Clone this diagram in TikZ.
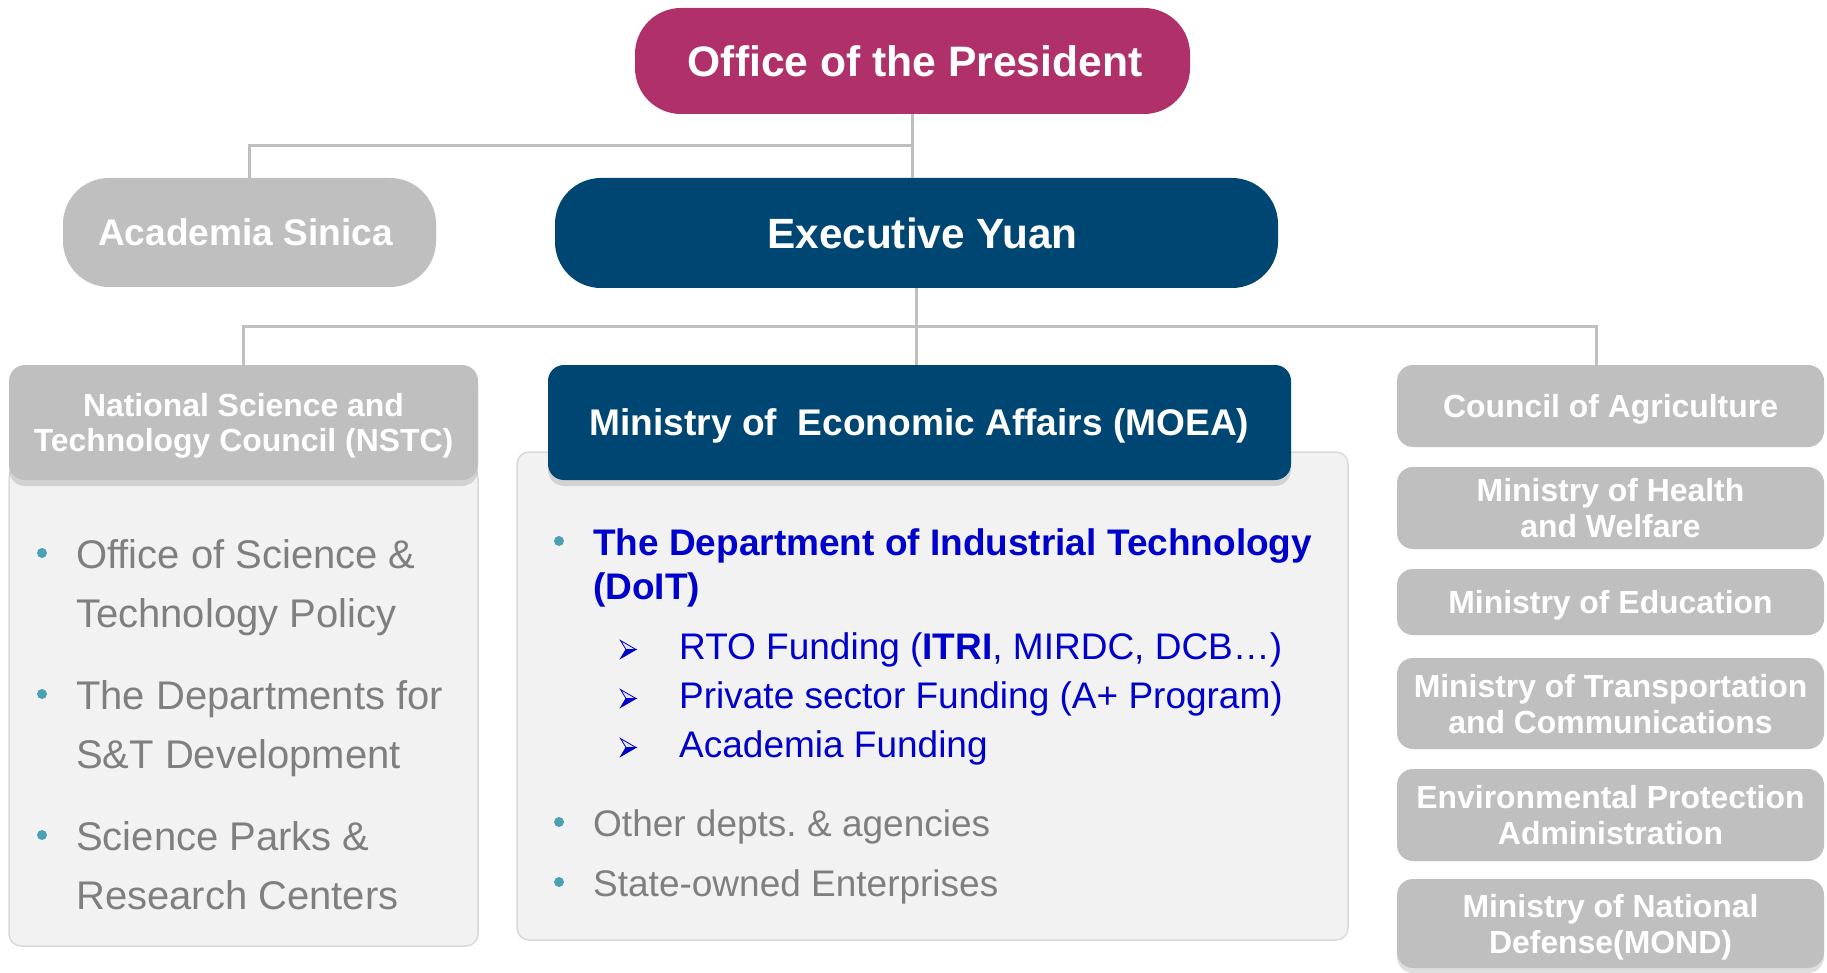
\documentclass[tikz,border=0pt]{standalone}
\usepackage{fontspec}
\setmainfont{Liberation Sans}
\usetikzlibrary{shadows}
\frenchspacing
\definecolor{presc}{HTML}{B0306A}
\definecolor{eyblue}{HTML}{004673}
\definecolor{boxgray}{HTML}{BFBFBF}
\definecolor{bodyfill}{HTML}{F2F2F2}
\definecolor{bodyline}{HTML}{D9D9D9}
\definecolor{bulteal}{HTML}{4BA0B4}
\definecolor{txtgray}{HTML}{7F7F7F}
\definecolor{ftblue}{HTML}{0000CC}
\definecolor{arrlight}{HTML}{E4E4F6}
\tikzset{
  conn/.style={draw=boxgray, line width=3pt},
  bigbox/.style={rounded corners=46pt, text=white, inner sep=0pt,
    font=\bfseries\fontsize{42.6}{50}\selectfont},
  hdrbox/.style={rounded corners=16pt, text=white, inner sep=0pt, align=center, text depth=0pt,
    drop shadow={opacity=0.28, shadow xshift=0pt, shadow yshift=-6pt}},
  rbox/.style={rounded corners=16pt, fill=boxgray, text=white, inner sep=0pt, align=center,
    text depth=0pt, minimum width=427pt, font=\bfseries\fontsize{31.9}{36}\selectfont},
  bodybox/.style={rounded corners=12pt, fill=bodyfill, draw=bodyline, line width=1.5pt},
  nsl/.style={anchor=west, inner sep=0pt, text height=28.8pt, text depth=0pt,
    text=txtgray, font=\fontsize{40}{48}\selectfont},
  mol/.style={anchor=west, inner sep=0pt, text height=26.6pt, text depth=0pt,
    font=\fontsize{37}{44}\selectfont},
  dot/.style={circle, fill=bulteal, inner sep=0pt, minimum size=10pt},
  arrbul/.pic={
    \filldraw[draw=ftblue, fill=arrlight, line width=0.8pt, line join=miter]
      (-7.5,-9) -- (8,0) -- (-2,0) -- cycle;
    \filldraw[draw=ftblue, fill=ftblue, line width=0.8pt, line join=miter]
      (-2,0) -- (8,0) -- (-7.5,9) -- cycle;
  },
}
\begin{document}
\begin{tikzpicture}[x=1pt,y=-1pt]
\useasboundingbox (0,0) rectangle (1827,973);
\fill[white] (0,0) rectangle (1827,973);

% top level
\node[bigbox, fill=presc, minimum width=555pt, minimum height=106pt] (pres) at (912.5,61) {\hspace*{5pt}Office of the President};
\node[bigbox, fill=boxgray, minimum width=373pt, minimum height=109pt,
      font=\bfseries\fontsize{37.1}{44}\selectfont] (acad) at (249.5,232.5) {Academia Sinica\hspace*{8pt}};
\node[bigbox, fill=eyblue, minimum width=723pt, minimum height=110pt,
      font=\bfseries\fontsize{42.3}{50}\selectfont] (exec) at (916.5,233) {\hspace*{12pt}Executive Yuan};

% bodies
\node[bodybox, minimum width=469pt, minimum height=480pt, inner sep=0pt] (nstcbody) at (243.5,706) {};
\node[bodybox, minimum width=831pt, minimum height=488pt, inner sep=0pt] (moeabody) at (932.5,696) {};

% headers
\node[hdrbox, fill=boxgray, minimum width=469pt, minimum height=115pt,
      font=\bfseries\fontsize{31.9}{35}\selectfont] (nstc) at (243.5,422.5)
      {National Science and\\Technology Council (NSTC)};
\node[hdrbox, fill=eyblue, minimum width=743pt, minimum height=115pt,
      font=\bfseries\fontsize{37.1}{44}\selectfont] (moea) at (919.5,422.5)
      {Ministry of\ \ Economic Affairs (MOEA)};

% right column
\node[rbox, minimum height=82pt] (coa) at (1610.5,406) {Council of Agriculture};
\node[rbox, minimum height=82pt] (mohw) at (1610.5,508) {Ministry of Health\\and Welfare};
\node[rbox, minimum height=66pt] (moe) at (1610.5,602) {Ministry of Education};
\node[rbox, minimum height=91pt] (motc) at (1610.5,703.5) {Ministry of Transportation\\and Communications};
\node[rbox, minimum height=92pt] (epa) at (1610.5,815) {Environmental Protection\\Administration};
\node[rbox, minimum height=89pt, drop shadow={opacity=0.25, shadow xshift=0pt, shadow yshift=-5pt}] (mond) at (1610.5,923.5) {Ministry of National\\Defense(MOND)};

% connectors
\coordinate (topbus) at (912.5,146);
\coordinate (midbus) at (916.5,327);
\coordinate (coadrop) at (1596,365);
\draw[conn] (pres.south) -- (pres.south |- exec.north);
\draw[conn] (topbus) -| (acad.north);
\draw[conn] (exec.south) -- (moea.north -| exec.south);
\draw[conn] (midbus) -| (nstc.north);
\draw[conn] (midbus) -| (coadrop);

% NSTC list
\node[dot] (d1) at (42,553) {};
\node[nsl] (s1a) at (76,554) {Office of Science \&};
\node[nsl] (s1b) at (76,613) {Technology Policy};
\node[dot] (d2) at (42,694) {};
\node[nsl] (s2a) at (76,695) {The Departments for};
\node[nsl] (s2b) at (76,754) {S\&T Development};
\node[dot] (d3) at (42,835) {};
\node[nsl] (s3a) at (76,836) {Science Parks \&};
\node[nsl] (s3b) at (76,895) {Research Centers};

% MOEA list
\node[dot] (m1) at (559,541) {};
\node[mol, text=ftblue, font=\bfseries\fontsize{37}{44}\selectfont] (t1a) at (593,542) {The Department of Industrial Technology};
\node[mol, text=ftblue, font=\bfseries\fontsize{37}{44}\selectfont] (t1b) at (593,586) {(DoIT)};
\pic at (628,649.5) {arrbul};
\node[mol, text=ftblue] (r1) at (679,646) {RTO Funding (\textbf{ITRI}, MIRDC, DCB…)};
\pic at (628,698.5) {arrbul};
\node[mol, text=ftblue] (r2) at (679,695) {Private sector Funding (A+ Program)};
\pic at (628,747.5) {arrbul};
\node[mol, text=ftblue] (r3) at (679,744) {Academia Funding};
\node[dot] (m2) at (559,822) {};
\node[mol, text=txtgray] (o1) at (593,823) {Other depts. \& agencies};
\node[dot] (m3) at (559,882) {};
\node[mol, text=txtgray] (o2) at (593,883) {State-owned Enterprises};
\end{tikzpicture}
\end{document}
